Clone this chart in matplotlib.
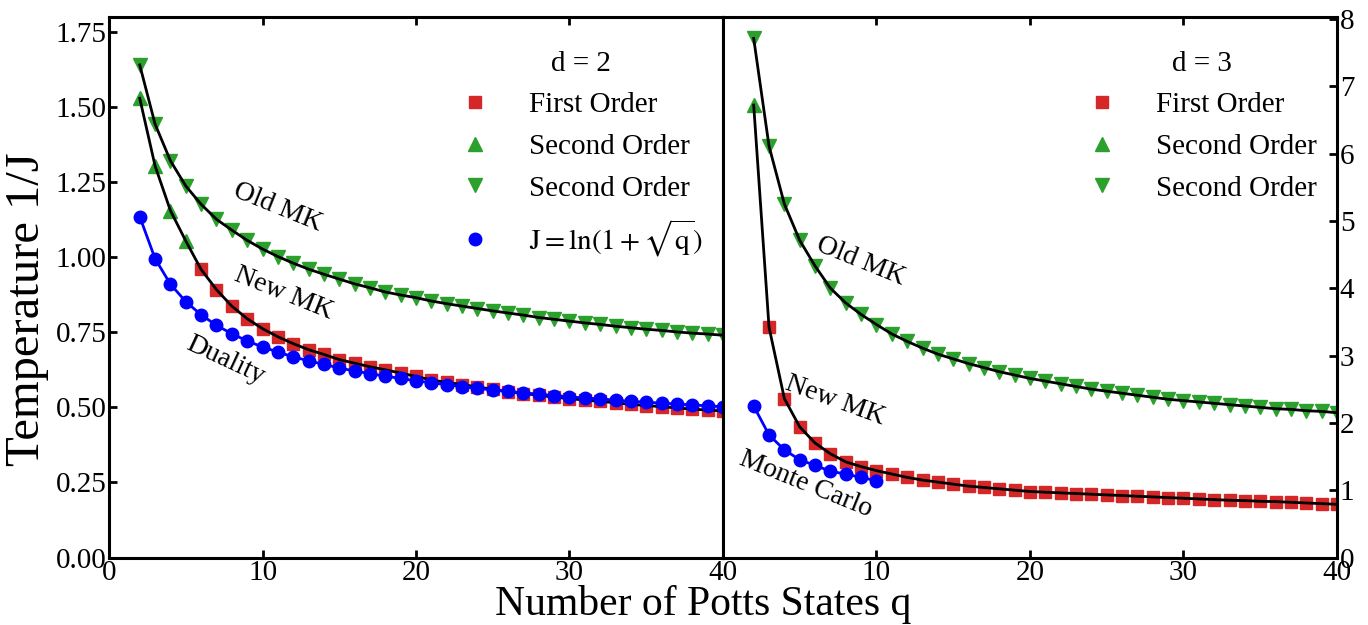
import matplotlib
matplotlib.use("Agg")
import matplotlib.pyplot as plt
from matplotlib.lines import Line2D

plt.rcParams['font.family'] = ['Liberation Serif', 'DejaVu Serif']
plt.rcParams['mathtext.fontset'] = 'stix'

# d = 2
q_d2 = list(range(2, 41))
duality_d2 = [1.135, 0.995, 0.910, 0.852, 0.808, 0.773, 0.745, 0.721, 0.701, 0.684,
              0.668, 0.655, 0.643, 0.631, 0.621, 0.612, 0.604, 0.596, 0.588, 0.582,
              0.575, 0.569, 0.563, 0.558, 0.553, 0.548, 0.544, 0.539, 0.535, 0.531,
              0.528, 0.524, 0.520, 0.517, 0.514, 0.511, 0.508, 0.505, 0.502]
old_mk_d2 = [1.640, 1.443, 1.321, 1.237, 1.176, 1.126, 1.090, 1.056, 1.027, 1.002,
             0.980, 0.960, 0.943, 0.927, 0.911, 0.898, 0.884, 0.874, 0.865, 0.854,
             0.845, 0.837, 0.829, 0.821, 0.814, 0.807, 0.799, 0.793, 0.787, 0.781,
             0.776, 0.770, 0.765, 0.760, 0.756, 0.751, 0.747, 0.744, 0.740]
q_new2_second = [2, 3, 4, 5]
new_mk_d2_second = [1.529, 1.304, 1.155, 1.054]
q_new2_first = list(range(6, 41))
new_mk_d2_first = [0.959, 0.892, 0.837, 0.795, 0.762, 0.735, 0.712, 0.692, 0.676, 0.659,
                   0.647, 0.635, 0.625, 0.614, 0.603, 0.591, 0.583, 0.576, 0.568, 0.560,
                   0.552, 0.546, 0.540, 0.534, 0.529, 0.524, 0.520, 0.515, 0.510, 0.506,
                   0.502, 0.498, 0.494, 0.491, 0.488]

# d = 3
q_d3 = list(range(2, 41))
old_mk_d3 = [7.71, 6.11, 5.25, 4.71, 4.33, 4.00, 3.78, 3.61, 3.46, 3.32,
             3.21, 3.11, 3.02, 2.95, 2.88, 2.82, 2.76, 2.71, 2.66, 2.62,
             2.58, 2.54, 2.50, 2.47, 2.44, 2.41, 2.38, 2.35, 2.33, 2.31,
             2.29, 2.27, 2.25, 2.23, 2.21, 2.20, 2.18, 2.17, 2.15]
q_new3_second = [2]
new_mk_d3_second = [6.72]
q_new3_first = list(range(3, 41))
new_mk_d3_first = [3.42, 2.36, 1.94, 1.70, 1.54, 1.42, 1.35, 1.29, 1.24, 1.19,
                   1.15, 1.12, 1.09, 1.06, 1.04, 1.02, 1.00, 0.98, 0.97, 0.96,
                   0.95, 0.94, 0.93, 0.92, 0.91, 0.90, 0.89, 0.88, 0.87, 0.86,
                   0.85, 0.845, 0.835, 0.83, 0.82, 0.81, 0.80, 0.79]
q_mc = list(range(2, 11))
monte_carlo_d3 = [2.25, 1.82, 1.60, 1.45, 1.37, 1.28, 1.24, 1.19, 1.14]

RED = '#d62728'
GREEN = '#2ca02c'
BLUE = '#0000ff'
fs = 20      # curve labels
fs_tick = 21
fs_leg = 21

fig = plt.figure(figsize=(13.68, 6.25), dpi=100)
ax1 = fig.add_axes([0.0797, 0.108, 0.4488, 0.865])
ax2 = fig.add_axes([0.5285, 0.108, 0.4488, 0.865])


def style(ax):
    for s in ax.spines.values():
        s.set_linewidth(2.2)
    ax.tick_params(direction='in', length=6, width=2, labelsize=fs_tick, pad=2)
    ax.set_xlim(0, 40)
    ax.set_xticks([0, 10, 20, 30, 40])


# left panel
ax1.plot(q_d2, old_mk_d2, 'v', color=GREEN, ms=10, zorder=2)
ax1.plot(q_d2, old_mk_d2, '-', color='black', lw=2, zorder=3)
ax1.plot(q_new2_second, new_mk_d2_second, '^', color=GREEN, ms=10, zorder=2)
ax1.plot(q_new2_first, new_mk_d2_first, 's', color=RED, ms=9, zorder=2)
ax1.plot(q_new2_second + q_new2_first, new_mk_d2_second + new_mk_d2_first, '-',
         color='black', lw=2, zorder=3)
ax1.plot(q_d2, duality_d2, 'o-', color=BLUE, ms=9, lw=2, zorder=4)
style(ax1)
ax1.set_ylim(0, 1.8)
ax1.set_yticks([0, 0.25, 0.5, 0.75, 1.0, 1.25, 1.5, 1.75])
ax1.set_yticklabels(['0.00', '0.25', '0.50', '0.75', '1.00', '1.25', '1.50', '1.75'])
ax1.tick_params(top=True, right=False)

ax1.text(11.0, 1.165, 'Old MK', fontsize=fs, rotation=-22, ha='center', va='center')
ax1.text(11.4, 0.88, 'New MK', fontsize=fs, rotation=-22, ha='center', va='center')
ax1.text(7.6, 0.655, 'Duality', fontsize=fs, rotation=-25, ha='center', va='center')

# right panel
ax2.plot(q_d3, old_mk_d3, 'v', color=GREEN, ms=10, zorder=2)
ax2.plot(q_d3, old_mk_d3, '-', color='black', lw=2, zorder=3)
ax2.plot(q_new3_second, new_mk_d3_second, '^', color=GREEN, ms=10, zorder=2)
ax2.plot(q_new3_first, new_mk_d3_first, 's', color=RED, ms=9, zorder=2)
ax2.plot(q_new3_second + q_new3_first, new_mk_d3_second + new_mk_d3_first, '-',
         color='black', lw=2, zorder=3)
ax2.plot(q_mc, monte_carlo_d3, 'o-', color=BLUE, ms=9, lw=2, zorder=4)
style(ax2)
ax2.set_ylim(0, 8.03)
ax2.set_xticks([10, 20, 30, 40])
ax2.set_yticks(range(0, 9))
ax2.yaxis.tick_right()
ax2.tick_params(top=True, left=False, right=True)

ax2.text(9.0, 4.4, 'Old MK', fontsize=fs, rotation=-22, ha='center', va='center')
ax2.text(7.3, 2.33, 'New MK', fontsize=fs, rotation=-20, ha='center', va='center')
ax2.text(5.4, 1.08, 'Monte Carlo', fontsize=fs, rotation=-22, ha='center', va='center')

# axis titles
fig.text(0.514, 0.016, 'Number of Potts States q', fontsize=30, ha='center', va='baseline')
fig.text(0.02, 0.506, 'Temperature 1/J', fontsize=35, rotation=90, ha='center', va='center')


def handles(with_blue):
    h = [Line2D([], [], ls='none', marker='s', color=RED, ms=9, label='First Order'),
         Line2D([], [], ls='none', marker='^', color=GREEN, ms=10, label='Second Order'),
         Line2D([], [], ls='none', marker='v', color=GREEN, ms=10, label='Second Order')]
    if with_blue:
        h.append(Line2D([], [], ls='none', marker='o', color=BLUE, ms=9,
                        label=r'$\mathrm{J = ln(1+\sqrt{q})}$'))
    return h


for ax, title, blue in [(ax1, 'd = 2', True), (ax2, 'd = 3', False)]:
    leg = ax.legend(handles=handles(blue), title=title, loc='upper right',
                    frameon=False, fontsize=fs_leg, title_fontsize=fs_leg,
                    handlelength=1.0, handletextpad=1.35, labelspacing=0.52,
                    borderaxespad=0.3, bbox_to_anchor=(1.0, 0.975))

fig.savefig('out.png', dpi=100)
